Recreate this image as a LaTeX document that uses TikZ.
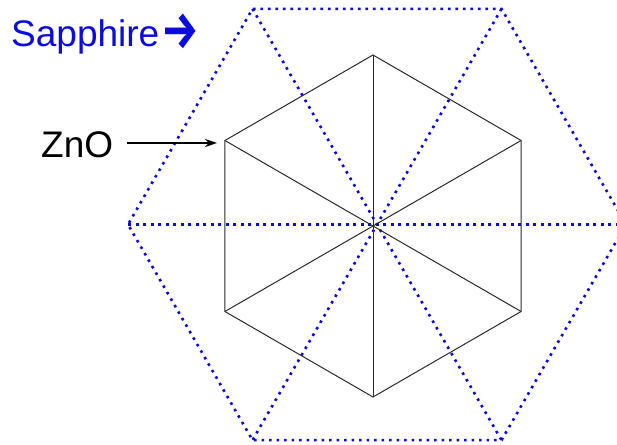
\documentclass[tikz,border=0pt]{standalone}
\usepackage{fontspec}
\setmainfont{Liberation Sans}
\newfontfamily\arrowfont{Fira Sans}
\usepackage{tikz}
\usepackage{xcolor}
\usetikzlibrary{arrows.meta,positioning,calc}
\definecolor{sapblue}{RGB}{10,10,225}
\definecolor{znoline}{HTML}{2A2A2A}
\tikzset{
  sapline/.style={draw=sapblue,line width=2.6pt,line cap=butt,
                  dash pattern=on 2.6pt off 4.9pt},
  znoedge/.style={draw=znoline,line width=1pt},
  biglabel/.style={font=\fontsize{37}{40}\selectfont,inner sep=0pt,anchor=base west},
  pointarr/.style={-{Stealth[length=12pt,width=8pt]},line width=1.6pt,color=black}
}

\begin{document}
\begin{tikzpicture}[x=1pt,y=1pt]
  \useasboundingbox (0,0) rectangle (617,444);
  \clip (0,0) rectangle (617,444);
  % sapphire lattice
  \coordinate (sapc) at (377,219.5);
  \foreach \a in {0,60,...,300}
    \coordinate (sap\a) at ($(sapc)+(\a:249)$);
  \draw[sapline] (sap0) -- (sap60) -- (sap120) -- (sap180) -- (sap240) -- (sap300) -- cycle;
  \draw[sapline] (sap0) -- (sap180);
  \draw[sapline] (sap60) -- (sap240);
  \draw[sapline] (sap120) -- (sap300);
  % ZnO lattice
  \coordinate (znoc) at (373,218);
  \foreach \a in {30,90,...,330}
    \coordinate (zno\a) at ($(znoc)+(\a:171)$);
  \draw[znoedge] (zno30) -- (zno90) -- (zno150) -- (zno210) -- (zno270) -- (zno330) -- cycle;
  \draw[znoedge] (zno90) -- (zno270);
  \draw[znoedge] (zno30) -- (zno210);
  \draw[znoedge] (zno150) -- (zno330);
  % labels
  \node[biglabel,text=sapblue] (saplbl) at (11,397)
    {Sapphire\kern2pt\raisebox{-2pt}{\scalebox{1.05}[1.3]{\arrowfont\bfseries\fontsize{40}{40}\selectfont →}}};
  \node[biglabel] (znolbl) at (41,286) {ZnO};
  \coordinate (znotip) at (217,301);
  \draw[pointarr] ([xshift=14pt]znolbl.east |- znotip) -- (znotip);
\end{tikzpicture}
\end{document}
